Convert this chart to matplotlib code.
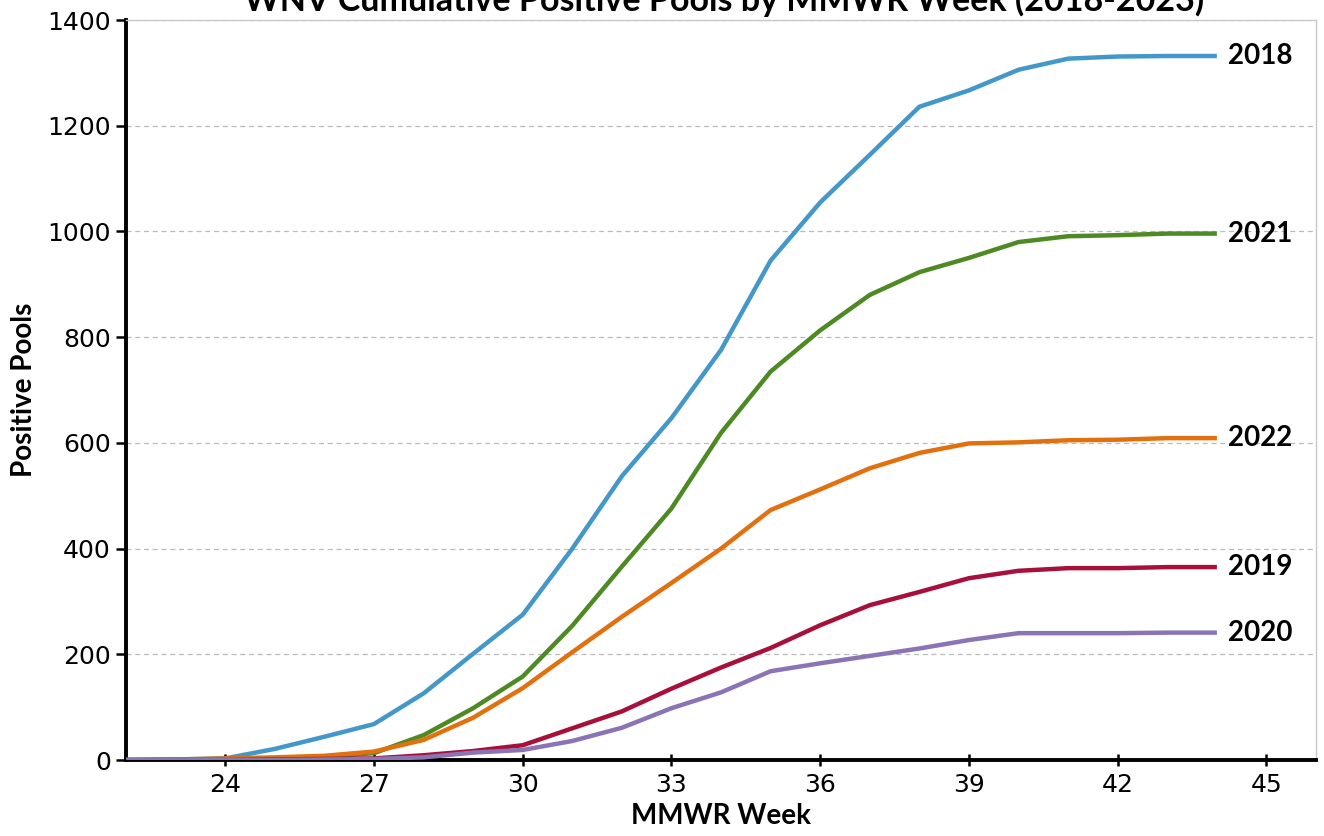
import matplotlib
matplotlib.use("Agg")
import matplotlib.pyplot as plt

weeks = list(range(22, 45))
y2018 = [0, 1, 3, 21, 44, 68, 126, 201, 275, 400, 537, 647, 776, 945, 1055, 1145, 1236, 1267, 1306, 1327, 1331, 1332, 1332]
y2019 = [0, 0, 0, 1, 2, 3, 9, 17, 28, 60, 92, 135, 175, 212, 255, 293, 318, 344, 358, 363, 363, 365, 365]
y2020 = [0, 0, 0, 0, 1, 2, 5, 14, 19, 36, 61, 98, 128, 168, 183, 197, 211, 227, 240, 240, 240, 241, 241]
y2021 = [0, 0, 1, 3, 6, 13, 47, 98, 158, 254, 366, 476, 619, 735, 813, 880, 923, 950, 980, 991, 993, 996, 996]
y2022 = [0, 1, 3, 5, 8, 16, 38, 80, 136, 204, 271, 335, 400, 473, 512, 552, 581, 599, 601, 605, 606, 609, 609]

series_names = ["2018", "2021", "2022", "2019", "2020"]
series_values = [y2018, y2021, y2022, y2019, y2020]
colors = ["#4398C9", "#4E8A24", "#E2700F", "#A8103C", "#8A74B4"]

x_ticks = [24, 27, 30, 33, 36, 39, 42, 45]
y_ticks = [0, 200, 400, 600, 800, 1000, 1200, 1400]

bold_family = ["Liberation Sans Narrow", "Lato", "DejaVu Sans"]

fig = plt.figure(figsize=(13.24, 8.36), dpi=100)
ax = fig.add_axes([0.0952, 0.0909, 0.8988, 0.8851])

for name, vals, c in zip(series_names, series_values, colors):
    ax.plot(weeks, vals, color=c, lw=3.2, solid_capstyle="butt", zorder=3)
    ax.text(weeks[-1] + 0.22, vals[-1], name, va="center", ha="left",
            fontsize=20, fontweight="bold", family=bold_family, color="black")

ax.set_xlim(22, 46)
ax.set_ylim(0, 1400)
ax.set_xticks(x_ticks)
ax.set_yticks(y_ticks)
ax.tick_params(axis="both", labelsize=18, width=1.8, color="black")
ax.tick_params(axis="x", direction="inout", length=9, pad=5)
ax.tick_params(axis="y", direction="out", length=7, pad=4)

ax.yaxis.grid(True, linestyle=(0, (4, 3)), color="#bbbbbb", lw=0.9)
ax.set_axisbelow(True)

for s in ["left", "bottom"]:
    ax.spines[s].set_linewidth(2.8)
    ax.spines[s].set_color("black")
for s in ["top", "right"]:
    ax.spines[s].set_linewidth(1.0)
    ax.spines[s].set_color("#c8c8c8")

ax.set_xlabel("MMWR Week", fontsize=20, fontweight="bold", family=bold_family, labelpad=4)
ax.set_ylabel("Positive Pools", fontsize=20, fontweight="bold", family=bold_family, labelpad=7)

fig.text(0.547, 0.999, "WNV Cumulative Positive Pools by MMWR Week (2018-2023)",
         ha="center", va="center", fontsize=24.5, fontweight="bold", family=bold_family)

fig.savefig("out.png", dpi=100)
